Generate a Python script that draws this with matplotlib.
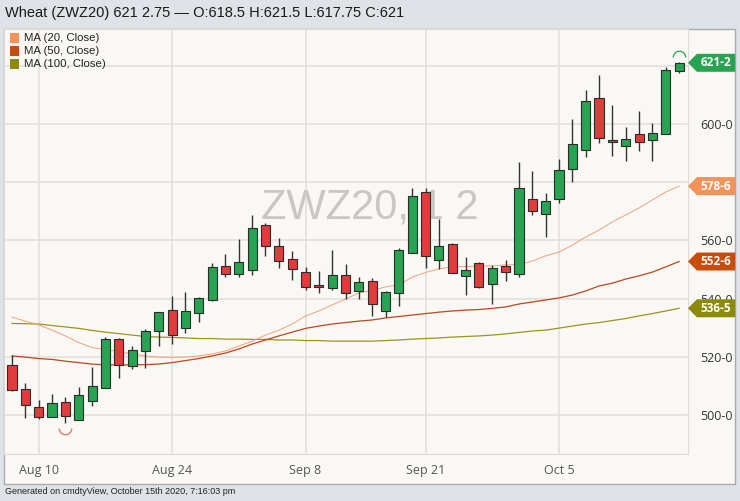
import numpy as np
import pandas as pd
import matplotlib
matplotlib.use('Agg')
import matplotlib.pyplot as plt
from matplotlib.patches import Rectangle, Polygon
from matplotlib.path import Path
import matplotlib.transforms as mtransforms

# trading sessions (Labor Day skipped)
dates = pd.bdate_range('2020-08-06', '2020-10-16', freq='C', holidays=['2020-09-07'])
tick_labels = ['Aug 10', 'Aug 24', 'Sep 8', 'Sep 21', 'Oct 5']
tick_dates = ['2020-08-10', '2020-08-24', '2020-09-08', '2020-09-21', '2020-10-05']

opens = [517.0, 508.75, 502.5, 499.5, 504.0, 498.25, 505.0, 509.5, 526.0, 517.0,
         522.0, 529.0, 536.0, 530.0, 535.25, 539.75, 551.0, 548.75, 550.0, 565.25,
         558.0, 553.5, 549.0, 544.5, 543.75, 548.0, 542.75, 546.0, 535.75, 542.0,
         556.0, 576.5, 553.5, 558.75, 548.0, 552.0, 545.25, 551.0, 548.75, 574.0,
         569.5, 574.5, 585.0, 591.5, 609.0, 594.5, 592.75, 596.5, 595.0, 597.0,
         618.5]
highs = [520.5, 511.0, 505.0, 507.0, 506.0, 509.5, 516.5, 526.75, 526.25, 523.75,
         529.5, 535.5, 541.0, 542.25, 540.5, 552.25, 555.5, 560.5, 568.75, 566.0,
         561.0, 556.25, 551.0, 549.5, 556.75, 552.0, 547.5, 547.0, 542.75, 557.25,
         578.0, 578.25, 567.25, 559.0, 554.25, 552.5, 551.5, 553.25, 587.0, 584.0,
         576.5, 588.0, 601.75, 611.75, 617.0, 606.75, 599.25, 604.5, 600.5, 619.75,
         621.5]
lows = [508.0, 498.75, 498.5, 499.0, 497.0, 498.0, 503.0, 509.25, 512.75, 515.75,
        516.0, 523.75, 524.25, 528.25, 531.75, 539.0, 547.5, 547.25, 548.25, 554.75,
        550.5, 546.5, 543.0, 541.75, 543.0, 540.0, 540.0, 534.0, 533.5, 537.5,
        555.75, 550.5, 550.0, 549.0, 541.25, 543.75, 538.0, 546.0, 547.25, 568.75,
        561.25, 573.0, 580.0, 588.75, 593.5, 589.0, 587.25, 591.0, 587.5, 597.0,
        617.75]
closes = [508.5, 503.5, 499.5, 503.75, 499.75, 506.5, 509.5, 526.0, 517.25, 522.0,
          528.5, 535.0, 527.75, 535.5, 540.0, 550.5, 548.75, 552.25, 564.25, 558.25,
          553.25, 550.25, 544.0, 544.0, 548.0, 542.0, 545.5, 538.25, 542.0, 556.5,
          575.0, 554.75, 558.0, 549.0, 549.75, 544.0, 550.25, 549.5, 578.0, 570.5,
          573.25, 584.25, 593.0, 607.75, 595.5, 594.25, 594.75, 594.25, 597.0, 618.5,
          621.0]

ma20 = [533.6, 532.2, 530.9, 529.1, 527.1, 524.8, 523.1, 522.4, 521.7, 520.9,
        520.2, 519.8, 519.7, 519.8, 520.2, 520.9, 521.9, 523.6, 525.3, 527.4,
        529.1, 531.2, 534.0, 535.7, 537.8, 539.8, 541.9, 542.8, 544.0, 544.7,
        547.4, 549.0, 550.2, 550.9, 551.0, 551.2, 551.2, 551.6, 551.7, 552.9,
        554.7, 556.0, 558.4, 561.2, 563.6, 566.4, 568.8, 571.2, 574.0, 576.7,
        578.75]
ma50 = [520.2, 519.8, 519.3, 519.0, 518.4, 517.9, 517.4, 517.1, 517.1, 517.1,
        517.2, 517.4, 517.9, 518.6, 519.3, 520.2, 521.2, 522.6, 524.3, 525.7,
        527.1, 528.4, 529.7, 530.5, 531.2, 531.7, 532.2, 532.6, 533.3, 533.8,
        534.3, 534.8, 535.3, 535.7, 536.0, 536.2, 536.6, 537.1, 538.1, 538.8,
        539.5, 540.2, 541.2, 542.6, 544.3, 545.3, 546.7, 547.8, 549.1, 550.9,
        552.75]
ma100 = [531.4, 531.3, 531.2, 530.7, 530.2, 529.7, 529.0, 528.4, 527.9, 527.4,
         526.9, 526.7, 526.6, 526.4, 526.2, 526.2, 526.0, 526.0, 525.9, 525.9,
         525.7, 525.7, 525.5, 525.5, 525.3, 525.3, 525.3, 525.3, 525.5, 525.7,
         526.0, 526.2, 526.4, 526.7, 526.9, 527.1, 527.4, 527.8, 528.3, 528.8,
         529.1, 529.8, 530.5, 531.2, 531.7, 532.4, 533.1, 534.0, 534.8, 535.7,
         536.625]

ma_names = ['MA (20, Close)', 'MA (50, Close)', 'MA (100, Close)']
ma_colors = ['#f4925a', '#c94c0c', '#8c8a0a']
line_colors = ['#f0a078', '#b9481c', '#9a9420']

W, H = 740, 501
fig = plt.figure(figsize=(W / 100, H / 100), dpi=100)
fig.patch.set_facecolor('#dfe2e6')

def fx(px):
    return px / W

def fy(py):
    return 1 - py / H

# white-ish panel behind everything
panel = Rectangle((fx(4), fy(484)), fx(731), 455 / H, transform=fig.transFigure,
                  facecolor='#faf8f4', edgecolor='#a9abae', lw=1, zorder=-10)
fig.add_artist(panel)

ax = fig.add_axes([fx(4), fy(454), fx(684), 425 / H])
ax.set_zorder(1)
ax.set_facecolor('#faf8f4')
for s in ax.spines.values():
    s.set_color('#dddbd6')

x = np.arange(len(dates))
o = np.array(opens); h = np.array(highs); l = np.array(lows); c = np.array(closes)
up = c >= o
col = np.where(up, '#27a352', '#e03c3c')

# watermark
ax.text(0.535, 0.58, 'ZWZ20, 1 2', transform=ax.transAxes, ha='center', va='center',
        fontsize=30, color='#c9c7c4', family='Liberation Sans', zorder=1)

ax.vlines(x, l, h, color='#333333', lw=1, zorder=3)
ax.bar(x, np.abs(c - o) + 0.4, bottom=np.minimum(o, c) - 0.2, width=0.68, color=col,
       edgecolor='#2b2b2b', lw=0.8, zorder=4)

for vals, cl, lw in zip([ma100, ma50, ma20], line_colors[::-1], [0.9, 0.9, 0.7]):
    ax.plot(x, vals, color=cl, lw=lw, zorder=2)

# swing markers
upper_arc = Path.arc(0, 180)
lower_arc = Path.arc(180, 360)
ax.plot(x[4], lows[4] - 1.8, marker=lower_arc, ms=9, mfc='none', mec='#e06b6b', mew=0.9, zorder=5)
ax.plot(x[50], highs[50] + 1.8, marker=upper_arc, ms=9, mfc='none', mec='#27a352', mew=0.9, zorder=5)

ax.set_xlim(-0.6, 50.67)
ax.set_ylim(486.4, 632.9)

tick_pos = [dates.get_loc(pd.Timestamp(d)) for d in tick_dates]
ax.set_xticks(tick_pos)
ax.set_xticklabels(tick_labels, fontsize=9, color='#555555', family='Open Sans')
ax.tick_params(axis='x', length=0, pad=7)
# 580 and 620 labels sit under the price tags in the original
yticks = np.arange(500, 621, 20)
ax.set_yticks(yticks)
ax.set_yticklabels(['' if v in (580, 620) else '%d-0' % v for v in yticks], fontsize=9,
                   color='#333333', family='Open Sans')
ax.yaxis.tick_right()
ax.tick_params(axis='y', length=0, pad=9)
ax.grid(True, color='#e3e0db', lw=1.2, zorder=0)
ax.set_axisbelow(True)

# price tags on the right axis
trans = mtransforms.blended_transform_factory(ax.transAxes, ax.transData)
tags = [(621.25, '621-2', '#27a352'), (578.75, '578-6', ma_colors[0]),
        (552.75, '552-6', ma_colors[1]), (536.625, '536-5', ma_colors[2])]
x0, x1, x2 = 1.0, 1.013, 1.069
hh = 3.1
for val, txt, cl in tags:
    poly = Polygon([(x0, val), (x1, val + hh), (x2, val + hh), (x2, val - hh), (x1, val - hh)],
                   closed=True, transform=trans, facecolor=cl, edgecolor='none',
                   clip_on=False, zorder=10)
    ax.add_patch(poly)
    ax.text((x1 + x2) / 2, val, txt, transform=trans, ha='center', va='center',
            fontsize=8.5, color='white', fontweight='bold', family='Open Sans',
            clip_on=False, zorder=11)

# legend
for i, (name, cl) in enumerate(zip(ma_names, ma_colors)):
    yy = 38 + i * 13
    fig.add_artist(Rectangle((fx(10), fy(yy + 4.5)), fx(9), 9 / H, transform=fig.transFigure,
                             facecolor=cl, edgecolor='none', zorder=20))
    fig.text(fx(24), fy(yy), name, fontsize=8.2, color='#222222', family='Liberation Sans',
             va='center', ha='left', zorder=20)

fig.text(fx(5), fy(13), 'Wheat (ZWZ20) 621 2.75 \u2014 O:618.5 H:621.5 L:617.75 C:621',
         fontsize=10.5, color='#1a1a1a', family='Liberation Sans', va='center', ha='left')
fig.text(fx(5), fy(492), 'Generated on cmdtyView, October 15th 2020, 7:16:03 pm',
         fontsize=6.5, color='#222222', family='Liberation Sans', va='center', ha='left')

fig.savefig('out.png', dpi=100, facecolor=fig.get_facecolor())
